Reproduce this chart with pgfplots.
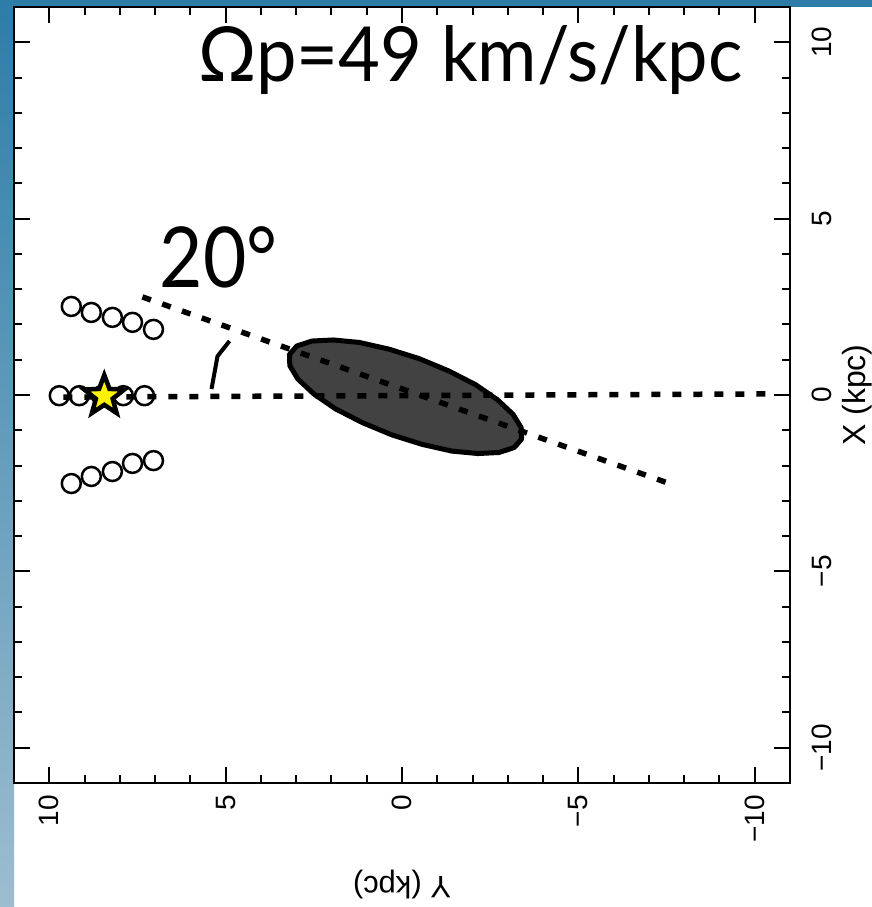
\documentclass[border=0pt]{standalone}
\usepackage{fontspec}
\setmainfont{Liberation Sans}
\newfontfamily\gill{Lato}
\usepackage{pgfplots}
\pgfplotsset{compat=1.18}
\definecolor{bgtop}{RGB}{45,125,168}
\definecolor{bgbot}{RGB}{157,189,208}
\definecolor{bartone}{RGB}{66,66,66}
\pgfdeclareplotmark{fstar}{%
  \pgfpathmoveto{\pgfqpointpolar{90}{\pgfplotmarksize}}%
  \pgfpathlineto{\pgfqpointpolar{126}{0.42\pgfplotmarksize}}%
  \pgfpathlineto{\pgfqpointpolar{162}{\pgfplotmarksize}}%
  \pgfpathlineto{\pgfqpointpolar{198}{0.42\pgfplotmarksize}}%
  \pgfpathlineto{\pgfqpointpolar{234}{\pgfplotmarksize}}%
  \pgfpathlineto{\pgfqpointpolar{270}{0.42\pgfplotmarksize}}%
  \pgfpathlineto{\pgfqpointpolar{306}{\pgfplotmarksize}}%
  \pgfpathlineto{\pgfqpointpolar{342}{0.42\pgfplotmarksize}}%
  \pgfpathlineto{\pgfqpointpolar{18}{\pgfplotmarksize}}%
  \pgfpathlineto{\pgfqpointpolar{54}{0.42\pgfplotmarksize}}%
  \pgfpathclose
  \pgfusepathqfillstroke
}
\begin{document}
\begin{tikzpicture}
\useasboundingbox (0,0) rectangle (872pt,907pt);
\shade[top color=bgtop, bottom color=bgbot] (0,0) rectangle (14pt,907pt);
\fill[bgtop] (0,900pt) rectangle (872pt,907pt);
\begin{axis}[
  at={(14pt,124pt)}, anchor=south west,
  scale only axis, width=776pt, height=776pt,
  xmin=-11, xmax=11, ymin=-11, ymax=11,
  x dir=reverse,
  xtick={-10,-5,0,5,10}, ytick={-10,-5,0,5,10},
  xticklabels={−10,−5,0,5,10}, yticklabels={−10,−5,0,5,10},
  minor x tick num=4, minor y tick num=4,
  xtick pos=both, ytick pos=both,
  xticklabel pos=bottom, yticklabel pos=right,
  tick align=inside,
  major tick length=16pt, minor tick length=8pt,
  every tick/.style={black, line width=2pt},
  axis line style={line width=2.5pt},
  ticklabel style={font=\fontsize{28}{30}\selectfont},
  xticklabel style={rotate=90, anchor=east, inner sep=0pt},
  yticklabel style={rotate=90, anchor=north, inner sep=0pt},
  xticklabel shift=12pt, yticklabel shift=22pt,
  clip=false,
  axis background/.style={fill=white},
]
% bar (ellipse outline read from the picture)
\addplot[draw=black, line width=5pt, fill=bartone, line join=round] coordinates {
 (3.19,1.15) (2.98,1.39) (2.55,1.53) (1.95,1.56) (1.21,1.49) (0.37,1.30)
 (-0.49,1.03) (-1.33,0.68) (-2.09,0.29) (-2.70,-0.13) (-3.15,-0.55) (-3.38,-0.93)
 (-3.39,-1.25) (-3.18,-1.49) (-2.75,-1.63) (-2.15,-1.66) (-1.41,-1.59) (-0.57,-1.40)
 (0.29,-1.13) (1.13,-0.78) (1.89,-0.39) (2.50,0.03) (2.95,0.45) (3.18,0.83)} -- cycle;
% dashed lines
\addplot[black, line width=5.5pt, dash pattern=on 9pt off 12pt] coordinates {(9.6,-0.06) (-10.45,0.03)};
\addplot[black, line width=5.5pt, dash pattern=on 9pt off 12pt] coordinates {(7.36,2.78) (-7.78,-2.58)};
% angle mark
\addplot[black, line width=4pt] coordinates {(5.40,0.17) (5.23,1.10) (4.89,1.53)};
% circles
\addplot[only marks, mark=o, mark size=9.5pt, mark options={line width=2.5pt, draw=black}] coordinates {
 (9.375,2.51) (8.807,2.34) (8.21,2.20) (7.64,2.06) (7.045,1.86)
 (9.716,-0.02) (9.148,-0.02) (8.52,-0.02) (7.90,-0.02) (7.30,-0.02)
 (9.375,-2.51) (8.807,-2.31) (8.21,-2.17) (7.64,-1.94) (7.045,-1.86)};
% star (Sun)
\addplot[only marks, mark=fstar, mark size=21pt, mark options={fill=yellow, draw=black, line width=4.5pt, line join=miter}] coordinates {(8.44,-0.03)};
% texts
\node[anchor=base east, inner sep=0pt, xscale=0.95, font=\gill\fontsize{76}{80}\selectfont] at (axis cs:-9.66,8.9) {Ωp=49 km/s/kpc};
\node[anchor=base west, inner sep=0pt, xscale=0.89, font=\gill\fontsize{84}{90}\selectfont] at (axis cs:6.875,3.06) {20°};
\node[rotate=180, font=\fontsize{31}{33}\selectfont] at (axis description cs:0.5,-0.131) {Y (kpc)};
\node[rotate=90, font=\fontsize{32}{34}\selectfont] at (axis description cs:1.087,0.5) {X (kpc)};
\end{axis}
\end{tikzpicture}
\end{document}
